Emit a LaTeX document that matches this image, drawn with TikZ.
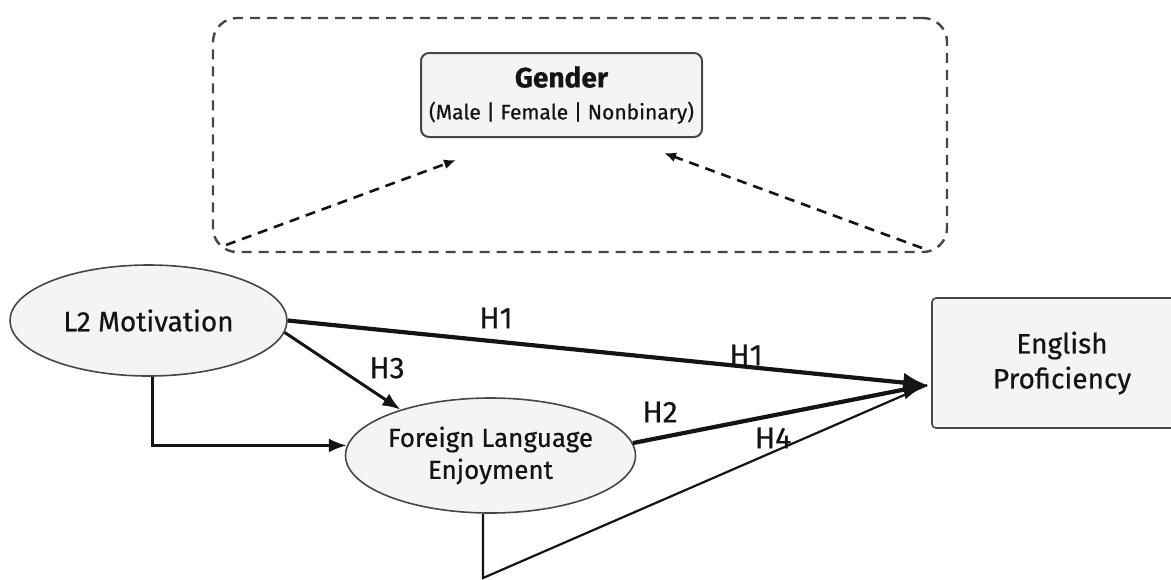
\documentclass[tikz,border=0pt]{standalone}
\usepackage{fontspec}
\setmainfont{Fira Sans}
\newfontfamily\medfont{Fira Sans}[FakeBold=0.6]
\definecolor{nodefill}{RGB}{244, 244, 244}
\definecolor{nodeline}{RGB}{70, 70, 70}
\definecolor{inkblack}{RGB}{20, 20, 20}
\usetikzlibrary{arrows.meta, positioning, shapes.geometric, calc}
\tikzset{
	latent/.style={ellipse, draw=nodeline, fill=nodefill, line width=0.8pt, align=center, inner sep=0pt, text=inkblack, font=\medfont\fontsize{14}{17}\selectfont},
	outcome/.style={rectangle, rounded corners=2pt, draw=nodeline, fill=nodefill, line width=0.8pt, align=center, text=inkblack, font=\medfont\fontsize{14}{17.5}\selectfont},
	moderator/.style={rectangle, rounded corners=4pt, draw=nodeline, fill=nodefill, line width=1pt, align=center, text=inkblack, font=\medfont\fontsize{10.5}{16}\selectfont},
	groupbox/.style={rectangle, rounded corners=12pt, draw=nodeline, dash pattern=on 5pt off 3.5pt, line width=1.2pt},
	mainarrow/.style={-{Latex[length=12pt, width=10pt]}, line width=2.1pt, draw=inkblack},
	smallarrow/.style={-{Latex[length=9pt, width=7pt]}, line width=1.5pt, draw=inkblack},
	thinline/.style={line width=1.1pt, draw=inkblack},
	dasharrow/.style={-{Latex[length=6pt, width=5pt]}, line width=1.3pt, dash pattern=on 5pt off 3.5pt, draw=inkblack},
	hyp/.style={inner sep=0pt, font=\medfont\fontsize{15}{17}\selectfont, text=inkblack},
}

\begin{document}
\begin{tikzpicture}[x=0.5pt, y=-0.5pt]
		\useasboundingbox (0,0) rectangle (1171,579);
		% moderator group
		\node[groupbox, minimum width=367pt, minimum height=117pt] (group) at (580,135) {};
		\node[moderator, minimum width=140.5pt, minimum height=42pt] (gender) at (561.5,95) {{\fontsize{14}{16}\selectfont\bfseries Gender}\\(Male | Female | Nonbinary)};
		\coordinate (gl) at (226,245);
		\coordinate (gr) at (922,248);
		\draw[dasharrow] (gl) -- ($(gender.south west)+(36,22)$);
		\draw[dasharrow] (gr) -- ($(gender.south east)+(-39,15)$);
		% model
		\node[latent, minimum width=138.5pt, minimum height=55.5pt] (l2) at (148.5,320.5) {L2 Motivation};
		\node[latent, minimum width=144pt, minimum height=57.5pt, font=\medfont\fontsize{13}{16}\selectfont] (fle) at (490.5,455.5) {Foreign Language\\Enjoyment};
		\node[outcome, minimum width=130pt, minimum height=65pt] (ep) at (1062,363) {English\\Proficiency};
		\coordinate (tip) at ($(ep.west)+(-4,22)$);
		\coordinate (fork) at (483,578);
		\draw[thinline] (fle.south -| fork) -- (fork) -- (tip);
		\draw[smallarrow] ($(l2.south)+(3.5,0)$) |- (fle.176);
		\draw[smallarrow] (l2.-5) -- (fle.153);
		\draw[mainarrow] (l2.east) -- (tip);
		\draw[mainarrow] (fle.5) -- (tip);
		% labels
		\node[hyp] (h1) at (496,318) {H1};
		\node[hyp] (h1b) at (746,355) {H1};
		\node[hyp] (h2) at (660,412) {H2};
		\node[hyp] (h3) at (387,368) {H3};
		\node[hyp] (h4) at (773,438) {H4};
	\end{tikzpicture}
\end{document}
